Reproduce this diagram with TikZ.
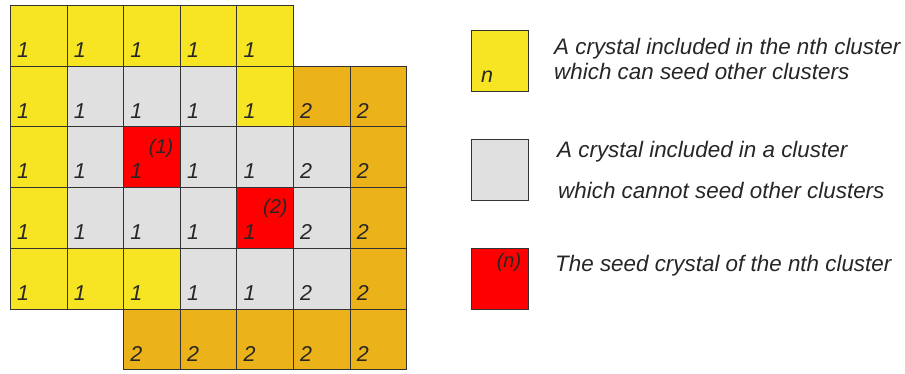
\documentclass[tikz,border=0pt]{standalone}
\usepackage{fontspec}
\setmainfont{Liberation Sans}
\usepackage{tikz}
\usetikzlibrary{positioning,calc}
\usepackage{xcolor}
\definecolor{cyellow}{RGB}{247,228,35}
\definecolor{corange}{RGB}{235,178,25}
\definecolor{cgray}{RGB}{224,224,224}
\definecolor{cred}{RGB}{255,0,0}

\begin{document}
\begin{tikzpicture}[x=1pt,y=-1pt,
  cell/.style={draw=black!80,line width=0.8pt,minimum width=56.6pt,minimum height=60.7pt,inner sep=0pt,anchor=north west},
  yel/.style={cell,fill=cyellow},
  org/.style={cell,fill=corange},
  gry/.style={cell,fill=cgray},
  sed/.style={cell,fill=cred},
  num/.style={anchor=base west,inner sep=0pt,font=\fontsize{21.5}{24}\selectfont\itshape,text=black!85},
  seedlab/.style={anchor=base east,inner sep=0pt,font=\fontsize{20}{22}\selectfont\itshape,text=black!85},
  txt/.style={anchor=base west,inner sep=0pt,font=\fontsize{22.4}{26}\selectfont\itshape,text=black!85}]
\useasboundingbox (0,0) rectangle (905,374);
% the grid of crystals
\foreach \c/\r/\s/\n in {0/0/yel/1,1/0/yel/1,2/0/yel/1,3/0/yel/1,4/0/yel/1,
  0/1/yel/1,1/1/gry/1,2/1/gry/1,3/1/gry/1,4/1/yel/1,5/1/org/2,6/1/org/2,
  0/2/yel/1,1/2/gry/1,2/2/sed/1,3/2/gry/1,4/2/gry/1,5/2/gry/2,6/2/org/2,
  0/3/yel/1,1/3/gry/1,2/3/gry/1,3/3/gry/1,4/3/sed/1,5/3/gry/2,6/3/org/2,
  0/4/yel/1,1/4/yel/1,2/4/yel/1,3/4/gry/1,4/4/gry/1,5/4/gry/2,6/4/org/2,
  2/5/org/2,3/5/org/2,4/5/org/2,5/5/org/2,6/5/org/2}
{
  \node[\s] (c\c\r) at ({10+56.6*\c},{5+60.7*\r}) {};
  \node[num] (n\c\r) at ([xshift=7pt,yshift=9pt]c\c\r.south west) {\n};
}
\node[seedlab] (s1) at ([xshift=-7pt,yshift=-27pt]c22.north east) {(1)};
\node[seedlab] (s2) at ([xshift=-6pt,yshift=-26pt]c43.north east) {(2)};
% the key
\node[yel] (keyn) at (471,30) {};
\node[num] (keynl) at ([xshift=10pt,yshift=9pt]keyn.south west) {n};
\node[gry] (keyg) at (471,139) {};
\node[sed] (keys) at (471,248) {};
\node[seedlab] (keysl) at ([xshift=-7pt,yshift=-19pt]keys.north east) {(n)};
\node[txt] (t1a) at (554,55) {A crystal included in the nth cluster};
\node[txt] (t1b) at (554,80) {which can seed other clusters};
\node[txt] (t2a) at (557,157.5) {A crystal included in a cluster};
\node[txt] (t2b) at (558,199) {which cannot seed other clusters};
\node[txt] (t3a) at (555,271.5) {The seed crystal of the nth cluster};
\end{tikzpicture}
\end{document}
